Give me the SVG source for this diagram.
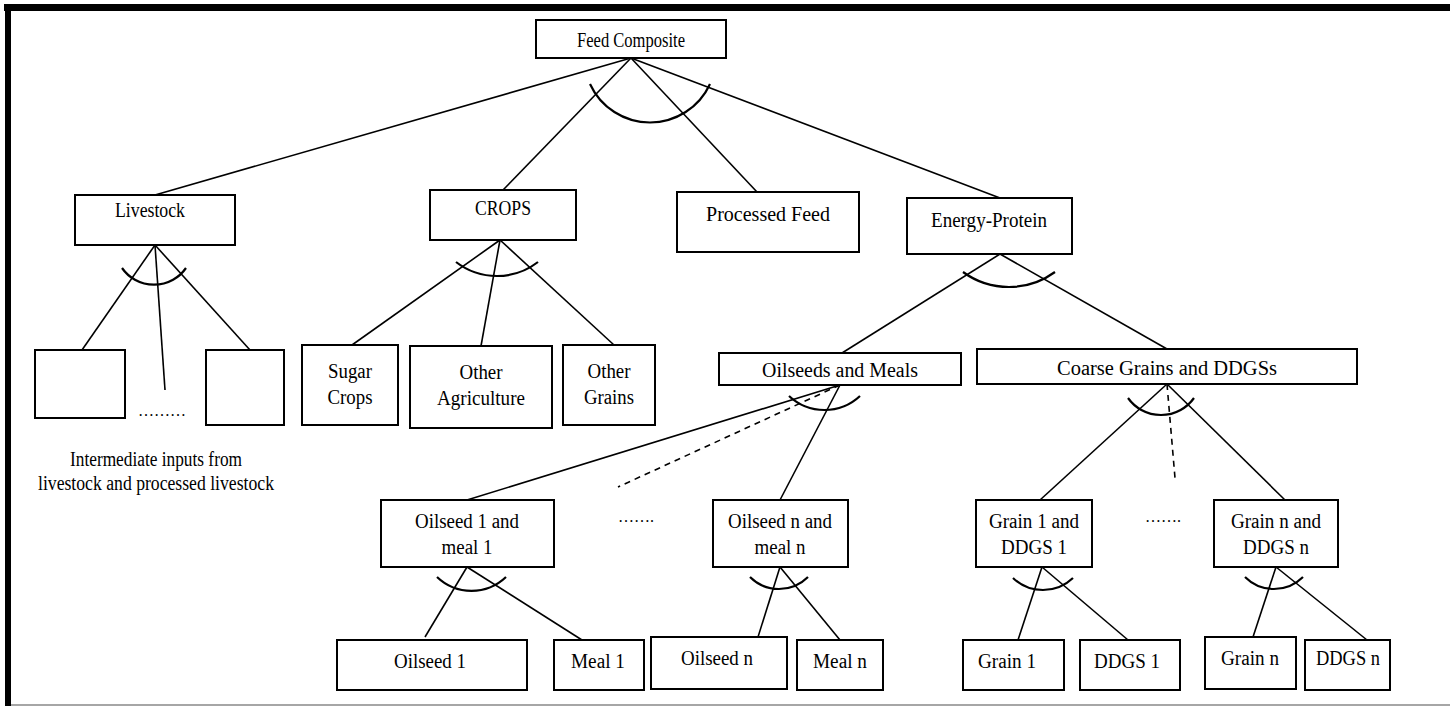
<svg xmlns="http://www.w3.org/2000/svg" width="1450" height="706" viewBox="0 0 1450 706">
<style>
.box{fill:#fff;stroke:#000;stroke-width:2}
.ln{stroke:#000;stroke-width:1.6;fill:none}
.dash{stroke-dasharray:6 5}
.arc{stroke:#000;stroke-width:2.2;fill:none}
text{font-family:"Liberation Serif","Times New Roman",serif;font-size:20px;fill:#000;text-anchor:middle}
.dots{font-size:16px}
</style>
<rect x="0" y="0" width="1450" height="706" fill="#fff"/>
<g id="frame">
<rect x="4" y="4" width="1446" height="7" fill="#000"/>
<rect x="5" y="4" width="6" height="702" fill="#000"/>
<line x1="11" y1="705" x2="1450" y2="705" stroke="#888" stroke-width="1.5"/>
</g>
<g id="connectors">
<line class="ln" x1="631" y1="58" x2="155" y2="195"/>
<line class="ln" x1="631" y1="58" x2="503" y2="190"/>
<line class="ln" x1="631" y1="58" x2="757" y2="192"/>
<line class="ln" x1="631" y1="58" x2="1000" y2="198"/>
<path class="arc" d="M590,84 A66,66 0 0 0 710,84"/>
<line class="ln" x1="155" y1="245" x2="82" y2="350"/>
<line class="ln" x1="155" y1="245" x2="165" y2="390"/>
<line class="ln" x1="155" y1="245" x2="250" y2="350"/>
<path class="arc" d="M122,268 A39,39 0 0 0 186,268"/>
<line class="ln" x1="500" y1="240" x2="352" y2="345"/>
<line class="ln" x1="500" y1="240" x2="481" y2="346"/>
<line class="ln" x1="500" y1="240" x2="614" y2="345"/>
<path class="arc" d="M456,262 A67,67 0 0 0 538,262"/>
<line class="ln" x1="1000" y1="254" x2="842" y2="353"/>
<line class="ln" x1="1000" y1="254" x2="1167" y2="349"/>
<path class="arc" d="M963,272 A78,78 0 0 0 1055,272"/>
<line class="ln" x1="840" y1="385" x2="467" y2="500"/>
<line class="ln dash" x1="840" y1="385" x2="618" y2="487"/>
<line class="ln" x1="840" y1="385" x2="780" y2="500"/>
<path class="arc" d="M789,396 A52,52 0 0 0 860,396"/>
<line class="ln" x1="1167" y1="384" x2="1040" y2="500"/>
<line class="ln dash" x1="1167" y1="384" x2="1175" y2="478"/>
<line class="ln" x1="1167" y1="384" x2="1285" y2="500"/>
<path class="arc" d="M1128,398 A40.5,40.5 0 0 0 1194,398"/>
<line class="ln" x1="467" y1="567" x2="425" y2="637"/>
<line class="ln" x1="467" y1="567" x2="582" y2="640"/>
<path class="arc" d="M437,577 A50,50 0 0 0 506,577"/>
<line class="ln" x1="780" y1="567" x2="758" y2="637"/>
<line class="ln" x1="780" y1="567" x2="840" y2="640"/>
<path class="arc" d="M750,577 A41,41 0 0 0 808,577"/>
<line class="ln" x1="1042" y1="567" x2="1018" y2="640"/>
<line class="ln" x1="1042" y1="567" x2="1128" y2="640"/>
<path class="arc" d="M1013,578 A43.5,43.5 0 0 0 1073,578"/>
<line class="ln" x1="1276" y1="567" x2="1253" y2="637"/>
<line class="ln" x1="1276" y1="567" x2="1367" y2="640"/>
<path class="arc" d="M1245,577 A41,41 0 0 0 1303,577"/>
</g>
<g id="feed-composite"><rect class="box" x="536" y="20" width="190" height="38"/><text x="631" y="47" textLength="108" lengthAdjust="spacingAndGlyphs">Feed Composite</text></g>
<g id="livestock"><rect class="box" x="75" y="195" width="160" height="50"/><text x="150" y="217" textLength="70" lengthAdjust="spacingAndGlyphs">Livestock</text></g>
<g id="crops"><rect class="box" x="430" y="190" width="146" height="50"/><text x="503" y="215" textLength="56" lengthAdjust="spacingAndGlyphs">CROPS</text></g>
<g id="processed-feed"><rect class="box" x="677" y="192" width="182" height="60"/><text x="768" y="221" textLength="124" lengthAdjust="spacingAndGlyphs">Processed Feed</text></g>
<g id="energy-protein"><rect class="box" x="907" y="198" width="165" height="56"/><text x="989" y="227" textLength="116" lengthAdjust="spacingAndGlyphs">Energy-Protein</text></g>
<g id="livestock-input-1"><rect class="box" x="35" y="350" width="90" height="68"/></g>
<g id="livestock-dots"><text class="dots" x="162" y="416">………</text></g>
<g id="livestock-input-n"><rect class="box" x="206" y="350" width="78" height="75"/></g>
<g id="sugar-crops"><rect class="box" x="302" y="345" width="96" height="80"/><text x="350" y="378" textLength="44" lengthAdjust="spacingAndGlyphs">Sugar</text><text x="350" y="404" textLength="45" lengthAdjust="spacingAndGlyphs">Crops</text></g>
<g id="other-agriculture"><rect class="box" x="410" y="346" width="142" height="82"/><text x="481" y="379" textLength="43" lengthAdjust="spacingAndGlyphs">Other</text><text x="481" y="405" textLength="88" lengthAdjust="spacingAndGlyphs">Agriculture</text></g>
<g id="other-grains"><rect class="box" x="563" y="345" width="92" height="80"/><text x="609" y="378" textLength="43" lengthAdjust="spacingAndGlyphs">Other</text><text x="609" y="404" textLength="50" lengthAdjust="spacingAndGlyphs">Grains</text></g>
<g id="intermediate-note"><text x="156" y="466" textLength="172" lengthAdjust="spacingAndGlyphs">Intermediate inputs from</text><text x="156" y="490" textLength="236" lengthAdjust="spacingAndGlyphs">livestock and processed livestock</text></g>
<g id="oilseeds-meals"><rect class="box" x="719" y="353" width="242" height="32"/><text x="840" y="377" textLength="156" lengthAdjust="spacingAndGlyphs">Oilseeds and Meals</text></g>
<g id="coarse-grains"><rect class="box" x="977" y="349" width="380" height="35"/><text x="1167" y="375" textLength="220" lengthAdjust="spacingAndGlyphs">Coarse Grains and DDGSs</text></g>
<g id="oilseed1-meal1"><rect class="box" x="381" y="500" width="173" height="67"/><text x="467" y="528" textLength="104" lengthAdjust="spacingAndGlyphs">Oilseed 1 and</text><text x="467" y="554" textLength="51" lengthAdjust="spacingAndGlyphs">meal 1</text></g>
<g id="oilseed-dots"><text class="dots" x="636" y="522">…….</text></g>
<g id="oilseedn-mealn"><rect class="box" x="713" y="500" width="135" height="67"/><text x="780" y="528" textLength="104" lengthAdjust="spacingAndGlyphs">Oilseed n and</text><text x="780" y="554" textLength="51" lengthAdjust="spacingAndGlyphs">meal n</text></g>
<g id="grain1-ddgs1"><rect class="box" x="976" y="500" width="116" height="67"/><text x="1034" y="528" textLength="90" lengthAdjust="spacingAndGlyphs">Grain 1 and</text><text x="1034" y="554" textLength="66" lengthAdjust="spacingAndGlyphs">DDGS 1</text></g>
<g id="grain-dots"><text class="dots" x="1163" y="522">…….</text></g>
<g id="grainn-ddgsn"><rect class="box" x="1214" y="500" width="124" height="67"/><text x="1276" y="528" textLength="90" lengthAdjust="spacingAndGlyphs">Grain n and</text><text x="1276" y="554" textLength="66" lengthAdjust="spacingAndGlyphs">DDGS n</text></g>
<g id="oilseed1"><rect class="box" x="337" y="640" width="190" height="50"/><text x="430" y="668" textLength="72" lengthAdjust="spacingAndGlyphs">Oilseed 1</text></g>
<g id="meal1"><rect class="box" x="554" y="640" width="90" height="50"/><text x="598" y="668" textLength="54" lengthAdjust="spacingAndGlyphs">Meal 1</text></g>
<g id="oilseedn"><rect class="box" x="651" y="637" width="136" height="52"/><text x="717" y="665" textLength="72" lengthAdjust="spacingAndGlyphs">Oilseed n</text></g>
<g id="mealn"><rect class="box" x="797" y="640" width="86" height="50"/><text x="840" y="668" textLength="54" lengthAdjust="spacingAndGlyphs">Meal n</text></g>
<g id="grain1"><rect class="box" x="963" y="640" width="101" height="50"/><text x="1007" y="668" textLength="58" lengthAdjust="spacingAndGlyphs">Grain 1</text></g>
<g id="ddgs1"><rect class="box" x="1080" y="640" width="100" height="50"/><text x="1127" y="668" textLength="66" lengthAdjust="spacingAndGlyphs">DDGS 1</text></g>
<g id="grainn"><rect class="box" x="1205" y="637" width="91" height="52"/><text x="1250" y="665" textLength="58" lengthAdjust="spacingAndGlyphs">Grain n</text></g>
<g id="ddgsn"><rect class="box" x="1305" y="640" width="85" height="50"/><text x="1348" y="665" textLength="64" lengthAdjust="spacingAndGlyphs">DDGS n</text></g>
</svg>
